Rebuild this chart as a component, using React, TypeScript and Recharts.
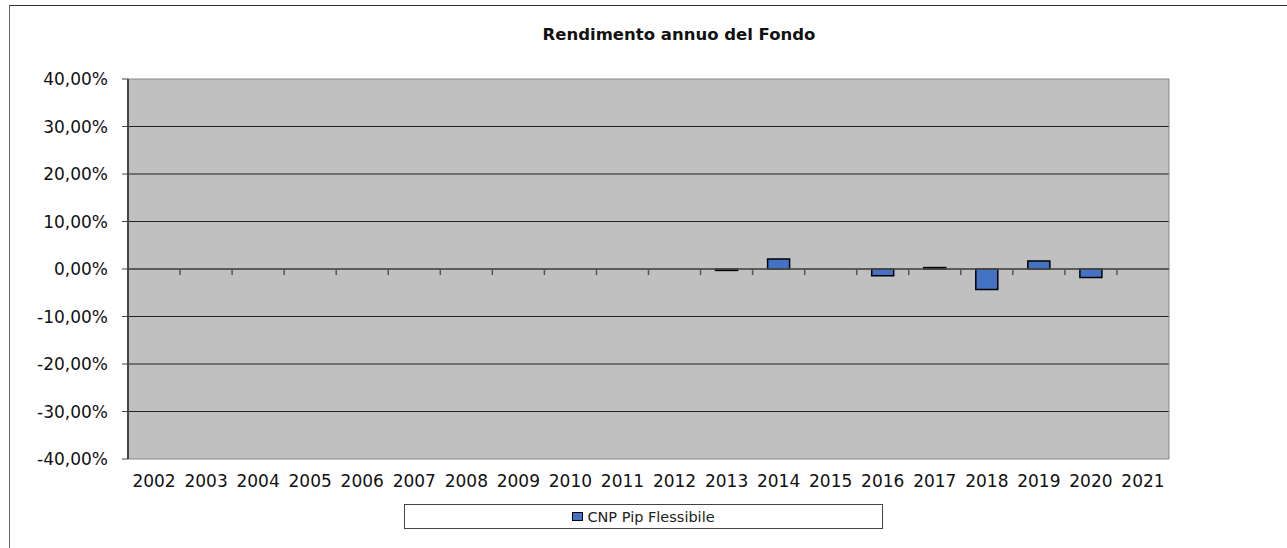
import { BarChart, Bar, XAxis, YAxis, CartesianGrid, ReferenceLine, ReferenceArea, Legend } from "recharts";

const years = [
  "2002", "2003", "2004", "2005", "2006", "2007", "2008", "2009", "2010", "2011",
  "2012", "2013", "2014", "2015", "2016", "2017", "2018", "2019", "2020", "2021",
];
const rendimento: (number | null)[] = [
  null, null, null, null, null, null, null, null, null, null,
  null, -0.003, 0.021, null, -0.014, 0.003, -0.043, 0.017, -0.018, null,
];
const yTicks = [-0.4, -0.3, -0.2, -0.1, 0, 0.1, 0.2, 0.3, 0.4];
const seriesName = "CNP Pip Flessibile";

const data = years.map((year, i) => ({ year, value: rendimento[i] }));

const font = "'DejaVu Sans', sans-serif";

const formatPct = (v: number) => (v * 100).toFixed(2).replace(".", ",") + "%";

// zero line with small tick marks at category boundaries
const ZeroAxis = (props: any) => {
  const { x1, x2, y1 } = props;
  const step = (x2 - x1) / years.length;
  return (
    <g>
      <line x1={x1} x2={x2} y1={y1} y2={y1} stroke="#555" strokeWidth={1.5} />
      {years.slice(1).map((_, i) => (
        <line key={i} x1={x1 + step * (i + 1)} x2={x1 + step * (i + 1)} y1={y1} y2={y1 + 6} stroke="#555" strokeWidth={1.5} />
      ))}
    </g>
  );
};

const LegendBox = ({ payload }: any) => (
  <div
    style={{
      border: "1px solid #444",
      background: "#fff",
      height: 25,
      display: "flex",
      alignItems: "center",
      justifyContent: "center",
      fontFamily: font,
      fontSize: 14.5,
      color: "#222",
      boxSizing: "border-box",
    }}
  >
    {(payload || []).map((p: any) => (
      <span key={p.value} style={{ display: "flex", alignItems: "center" }}>
        <span style={{ width: 9, height: 7, background: "#4472c4", border: "1px solid #000", marginRight: 4 }} />
        {p.value}
      </span>
    ))}
  </div>
);

export default function App() {
  return (
    <div style={{ position: "absolute", left: 0, top: 0, width: 1287, height: 548, background: "#fff", overflow: "hidden" }}>
      <div
        style={{
          position: "absolute",
          left: 9,
          top: 5,
          width: 1277,
          height: 560,
          borderTop: "1px solid #333",
          borderLeft: "1px solid #666",
          borderRight: "1px solid #ccc",
        }}
      />
      <div
        style={{
          position: "absolute",
          left: 479,
          top: 25,
          width: 400,
          textAlign: "center",
          fontFamily: font,
          fontWeight: "bold",
          fontSize: 16.5,
          color: "#111",
        }}
      >
        Rendimento annuo del Fondo
      </div>
      <div style={{ position: "absolute", left: 0, top: 0 }}>
        <BarChart width={1287} height={548} data={data} margin={{ top: 79, right: 118, bottom: 59, left: 28 }} barCategoryGap={0}>
          <CartesianGrid vertical={false} horizontalValues={yTicks.slice(1, -1)} stroke="#222" strokeWidth={1} fill="#c0c0c0" fillOpacity={1} />
          <ReferenceArea y1={-0.4} y2={0.4} fill="none" stroke="#888" strokeWidth={1} />
          <XAxis
            dataKey="year"
            axisLine={false}
            tickLine={false}
            tickSize={0}
            tickMargin={16}
            interval={0}
            tick={{ fill: "#111", fontSize: 17, fontFamily: font }}
          />
          <YAxis
            width={100}
            domain={[-0.4, 0.4]}
            ticks={yTicks}
            tickFormatter={formatPct}
            axisLine={{ stroke: "#444", strokeWidth: 2 }}
            tickLine={{ stroke: "#444" }}
            tickSize={6}
            tickMargin={14}
            tick={{ fill: "#111", fontSize: 17, fontFamily: font }}
          />
          <ReferenceLine y={0} shape={ZeroAxis} />
          <Bar dataKey="value" name={seriesName} fill="#4472c4" stroke="#000" strokeWidth={1.5} barSize={22} isAnimationActive={false} />
          <Legend
            verticalAlign="middle"
            content={LegendBox}
            wrapperStyle={{ left: 404, top: 504, width: 479, height: 25 }}
          />
        </BarChart>
      </div>
    </div>
  );
}
